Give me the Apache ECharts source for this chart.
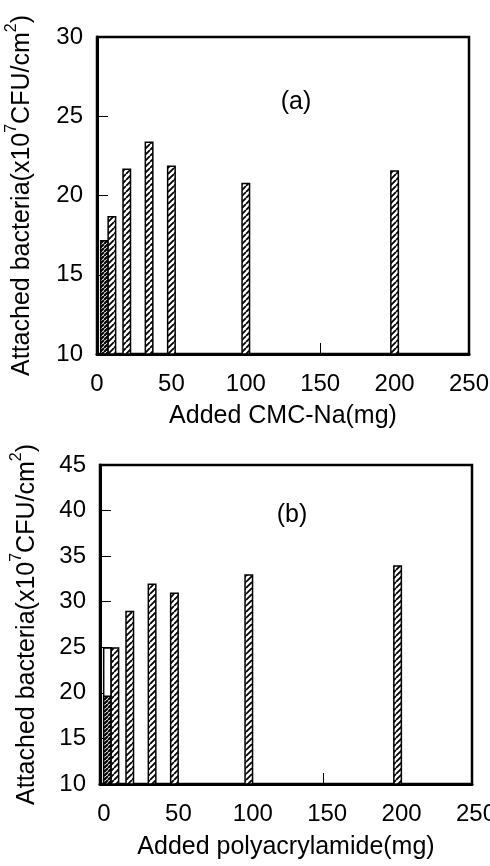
<!DOCTYPE html>
<html><head><meta charset="utf-8">
<script src="https://cdn.jsdelivr.net/npm/echarts@6.0.0/dist/echarts.min.js"></script>
<style>html,body{margin:0;padding:0;background:#fff}#c{width:490px;height:866px}</style>
</head><body><div id="c"></div>
<script>
// ---- data ----
const xPositions = [5, 10, 20, 35, 50, 100, 200];          // added amount (mg); first bar = control
const cmcValues  = [17.2, 18.7, 21.7, 23.4, 21.9, 20.8, 21.6]; // panel (a)
const pamValues  = [19.7, 25.0, 29.0, 32.0, 31.0, 33.0, 34.0]; // panel (b)
const pamOpenBoxX = [5];     // unfilled outline bar in panel (b)
const pamOpenBoxY = [25.0];
const xTickLabels = [0, 50, 100, 150, 200, 250];
const yTicksA = [10, 15, 20, 25, 30];
const yTicksB = [10, 15, 20, 25, 30, 35, 40, 45];
const xNameA = 'Added CMC-Na(mg)';
const xNameB = 'Added polyacrylamide(mg)';
const panelA = '(a)', panelB = '(b)';

function hatch(size, lw) {
  const c = document.createElement('canvas');
  c.width = c.height = size;
  const g = c.getContext('2d');
  g.fillStyle = '#fff'; g.fillRect(0, 0, size, size);
  g.strokeStyle = '#000'; g.lineWidth = lw;
  g.beginPath();
  for (const o of [-size, 0, size]) { g.moveTo(o, size); g.lineTo(o + size, 0); }
  g.stroke();
  return c;
}
const lightHatch = { image: hatch(6, 1.8), repeat: 'repeat' };
const darkHatch = { image: hatch(4, 2.2), repeat: 'repeat' };

const FONT = "'Liberation Sans', Arial, sans-serif";
const yName = '{t|Attached bacteria(x10}{s|7}{t|CFU/cm}{s|2}{t|)}';
const yNameStyle = {
  color: '#000', fontFamily: FONT,
  rich: {
    t: { fontSize: 25, fontFamily: FONT, color: '#000', lineHeight: 31, verticalAlign: 'bottom' },
    s: { fontSize: 16, fontFamily: FONT, color: '#000', lineHeight: 31, verticalAlign: 'top' }
  }
};

function barData(vals) {
  return vals.map((v, i) => ({
    value: [xPositions[i], v],
    itemStyle: i === 0 ? { color: darkHatch } : undefined
  }));
}

function xAxisCfg(gi, name, gap, shift) {
  return {
    type: 'value', gridIndex: gi, min: 0, max: 250, interval: 50,
    name: name, nameLocation: 'middle', nameGap: gap,
    nameTextStyle: { fontSize: 25, color: '#000', fontFamily: FONT },
    axisLine: { show: true, onZero: false, lineStyle: { color: '#000', width: 3 } },
    axisTick: { show: true, inside: true, length: 11, lineStyle: { color: '#000', width: 1 } },
    axisLabel: { fontSize: 24, color: '#000', fontFamily: FONT, margin: 18, padding: [0, 0, 0, shift] },
    splitLine: { show: false }
  };
}
function yAxisCfg(gi, max, gap) {
  return {
    type: 'value', gridIndex: gi, min: 10, max: max, interval: 5,
    name: yName, nameLocation: 'middle', nameGap: gap, nameTextStyle: yNameStyle,
    axisLine: { show: true, onZero: false, lineStyle: { color: '#000', width: 3 } },
    axisTick: { show: true, inside: true, length: 11, lineStyle: { color: '#000', width: 1 } },
    axisLabel: { fontSize: 24, color: '#000', fontFamily: FONT, margin: 14 },
    splitLine: { show: false }
  };
}

const chart = echarts.init(document.getElementById('c'), null, { renderer: 'canvas' });
chart.setOption({
  backgroundColor: '#fff',
  animation: false,
  title: [
    { text: panelA, left: 291, top: 85, textAlign: 'center',
      textStyle: { fontSize: 25, fontWeight: 'normal', color: '#000', fontFamily: FONT } },
    { text: panelB, left: 287, top: 498, textAlign: 'center',
      textStyle: { fontSize: 25, fontWeight: 'normal', color: '#000', fontFamily: FONT } }
  ],
  grid: [
    { left: 97, top: 37, width: 372, height: 317, show: true, borderColor: '#000', borderWidth: 2.5,
      backgroundColor: 'transparent', containLabel: false, outerBoundsMode: 'none' },
    { left: 100, top: 465, width: 372, height: 319, show: true, borderColor: '#000', borderWidth: 2.5,
      backgroundColor: 'transparent', containLabel: false, outerBoundsMode: 'none' }
  ],
  xAxis: [xAxisCfg(0, xNameA, 50, 0), xAxisCfg(1, xNameB, 51, 8)],
  yAxis: [yAxisCfg(0, 30, 62), yAxisCfg(1, 45, 60)],
  series: [
    { type: 'bar', xAxisIndex: 0, yAxisIndex: 0, barWidth: 9,
      data: barData(cmcValues),
      itemStyle: { color: lightHatch, borderColor: '#000', borderWidth: 1.5 } },
    { type: 'bar', xAxisIndex: 1, yAxisIndex: 1, barWidth: 9, barGap: '-100%',
      data: pamOpenBoxX.map((x, i) => [x, pamOpenBoxY[i]]),
      itemStyle: { color: '#fff', borderColor: '#000', borderWidth: 1.5 } },
    { type: 'bar', xAxisIndex: 1, yAxisIndex: 1, barWidth: 9, barGap: '-100%',
      data: barData(pamValues),
      itemStyle: { color: lightHatch, borderColor: '#000', borderWidth: 1.5 } }
  ]
});
</script>
</body></html>
